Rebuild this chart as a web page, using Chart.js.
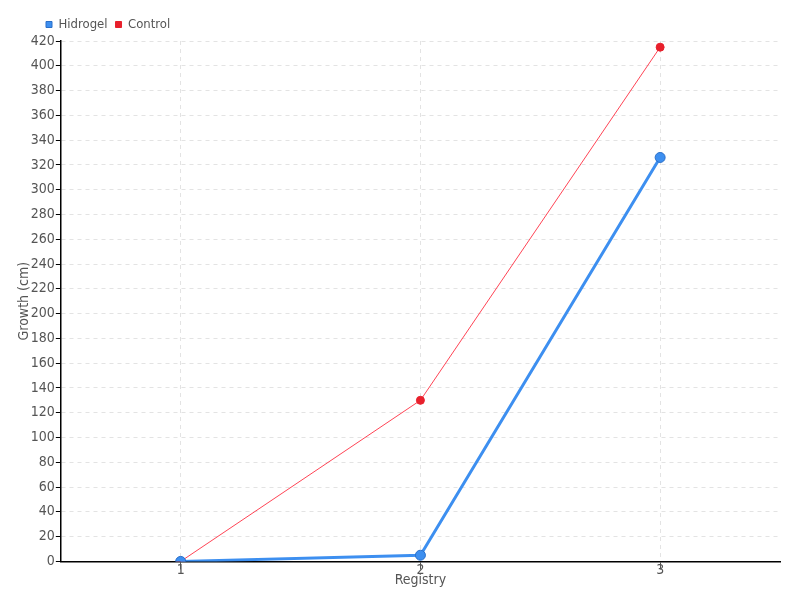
<!DOCTYPE html>
<html>
<head>
<meta charset="utf-8">
<script src="https://cdn.jsdelivr.net/npm/chart.js@4/dist/chart.umd.min.js"></script>
<style>
    html, body { margin: 0; padding: 0; background: #fff; }
    #wrap { width: 800px; height: 600px; }
</style>
</head>
<body>
<div id="wrap"><canvas id="growth-chart"></canvas></div>
<script>
let registries = ['1', '2', '3'];
let hidrogelValues = [0, 5, 326];
let controlValues = [0, 130, 415];

let fontFamily = '"DejaVu Sans Condensed", "Liberation Sans Narrow", sans-serif';

// nudge the legend to the right, next to the y axis
let legendShift = {
    id: 'legendShift',
    afterLayout(chart) {
        if (chart.legend) {
            chart.legend.left += 25;
        }
    }
};

let ctx = document.getElementById('growth-chart');

new Chart(ctx, {
    type: 'line',
    data: {
        labels: registries,
        datasets: [{
            label: 'Hidrogel',
            data: hidrogelValues,
            borderColor: '#3d8ff0',
            backgroundColor: '#3d8ff0',
            pointBackgroundColor: '#3d8ff0',
            pointBorderColor: '#2a6fc9',
            borderWidth: 3,
            pointRadius: 5,
            pointBorderWidth: 1,
            tension: 0
        }, {
            label: 'Control',
            data: controlValues,
            borderColor: '#ff4455',
            backgroundColor: '#e8202c',
            pointBackgroundColor: '#e8202c',
            pointBorderColor: '#e8202c',
            borderWidth: 1,
            pointRadius: 4,
            tension: 0
        }]
    },
    plugins: [legendShift],
    options: {
        responsive: true,
        maintainAspectRatio: false,
        animation: false,
        layout: { padding: { left: 13, right: 20, top: 10, bottom: 9 } },
        plugins: {
            legend: {
                position: 'top',
                align: 'start',
                labels: {
                    usePointStyle: true,
                    pointStyle: 'rect',
                    boxWidth: 6,
                    boxHeight: 6,
                    padding: 8,
                    color: '#555',
                    font: { family: fontFamily, size: 13 }
                }
            },
            tooltip: { enabled: false }
        },
        scales: {
            x: {
                offset: true,
                grid: {
                    offset: false,
                    color: '#e3e3e3',
                    tickColor: '#555',
                    tickLength: 8,
                    tickBorderDash: []
                },
                border: { color: '#000', width: 1.5, dash: [4, 4] },
                ticks: { color: '#555', font: { family: fontFamily, size: 14 }, padding: -7 },
                title: {
                    display: true,
                    text: 'Registry',
                    color: '#555',
                    padding: { top: 0, bottom: 2 },
                    font: { family: fontFamily, size: 14 }
                }
            },
            y: {
                min: 0,
                max: 420,
                ticks: {
                    stepSize: 20,
                    color: '#555',
                    font: { family: fontFamily, size: 14 },
                    padding: 1
                },
                grid: {
                    color: '#e3e3e3',
                    tickColor: '#000',
                    tickLength: 5,
                    tickBorderDash: []
                },
                border: { color: '#000', width: 1.5, dash: [4, 4] },
                title: {
                    display: true,
                    text: 'Growth (cm)',
                    color: '#555',
                    padding: { top: 3, bottom: -3 },
                    font: { family: fontFamily, size: 14 }
                }
            }
        }
    }
});
</script>
</body>
</html>
